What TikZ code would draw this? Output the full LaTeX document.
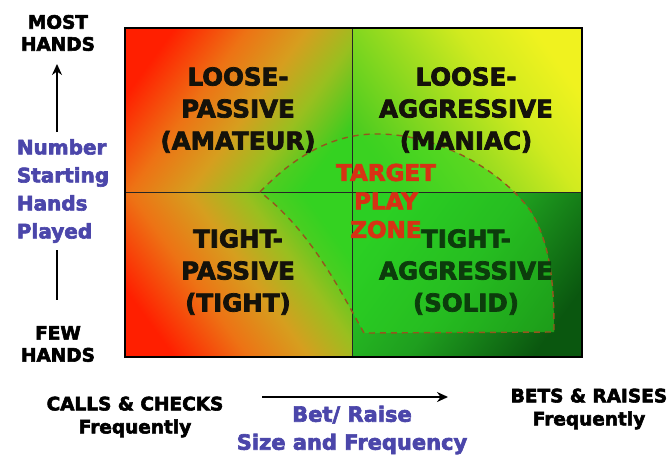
\documentclass[tikz,border=0pt]{standalone}
\usepackage{fontspec}
\setmainfont{DejaVu Sans}
\newfontfamily\heavy{DejaVu Sans Bold}[FakeBold=3]
\usetikzlibrary{arrows.meta}
\definecolor{zonefill}{RGB}{45,215,35}
\definecolor{zoneline}{RGB}{150,85,30}
\definecolor{zonetext}{RGB}{215,50,20}
\definecolor{axisblue}{RGB}{75,70,170}
\definecolor{txtdark}{RGB}{20,18,10}
\definecolor{txtgreen}{RGB}{12,60,12}
\pgfdeclarehorizontalshading{redgreen}{100bp}{%
  rgb(0bp)=(1,0.12,0); rgb(25bp)=(1,0.12,0); rgb(40bp)=(0.93,0.45,0.08);
  rgb(52bp)=(0.84,0.62,0.12); rgb(63bp)=(0.6,0.75,0.12); rgb(75bp)=(0.24,0.8,0.12); rgb(100bp)=(0.24,0.8,0.12)}
\pgfdeclarehorizontalshading{greenyellow}{100bp}{%
  rgb(0bp)=(0.3,0.8,0.12); rgb(25bp)=(0.3,0.8,0.12); rgb(45bp)=(0.6,0.86,0.12);
  rgb(60bp)=(0.82,0.92,0.12); rgb(75bp)=(0.94,0.95,0.12); rgb(100bp)=(0.94,0.95,0.12)}
\pgfdeclarehorizontalshading{greendark}{100bp}{%
  rgb(0bp)=(0.16,0.78,0.14); rgb(25bp)=(0.16,0.78,0.14); rgb(50bp)=(0.12,0.62,0.12);
  rgb(75bp)=(0.04,0.34,0.06); rgb(100bp)=(0.04,0.34,0.06)}
\tikzset{
  quad/.style={font=\heavy\fontsize{24.5}{32}\selectfont, align=center, text=txtdark},
  side/.style={font=\heavy\fontsize{18.5}{22}\selectfont, align=center, text=black},
  bluelab/.style={font=\heavy\fontsize{20}{28}\selectfont, align=left, text=axisblue},
  botlab/.style={font=\heavy\fontsize{18.5}{23}\selectfont, align=center, text=black},
  bluebot/.style={font=\heavy\fontsize{21}{28}\selectfont, align=center, text=axisblue},
  zonelab/.style={font=\heavy\fontsize{23}{28.5}\selectfont, align=center, text=zonetext},
  arr/.style={line width=2.8pt, -{Stealth[length=11pt,width=10pt]}},
}
\begin{document}
\begin{tikzpicture}[x=1pt,y=-1pt]
\useasboundingbox (0,0) rectangle (672,455);
\fill[white] (0,0) rectangle (672,455);
% quadrants
\shade[shading=redgreen, shading angle=-36] (125,28) rectangle (352,192);
\shade[shading=greenyellow, shading angle=36] (352,28) rectangle (582,192);
\shade[shading=redgreen, shading angle=36] (125,192) rectangle (352,357);
\shade[shading=greendark, shading angle=-36] (352,192) rectangle (582,357);
% target zone fill
\fill[zonefill, opacity=0.55] (260,192) .. controls (300,150) and (340,133) .. (380,134)
  .. controls (440,135) and (500,170) .. (530,210)
  .. controls (552,245) and (554,290) .. (554,332) -- (364,333)
  .. controls (340,290) and (310,230) .. (260,192) -- cycle;
% grid lines
\draw[line width=1pt, black!85] (352,28) -- (352,357);
\draw[line width=1pt, black!85] (125,192) -- (582,192);
\draw[line width=2.2pt, black] (125,28) rectangle (582,357);
% zone outline
\draw[zoneline, line width=1.4pt, dash pattern=on 6pt off 5pt] (260,192) .. controls (300,150) and (340,133) .. (380,134)
  .. controls (440,135) and (500,170) .. (530,210)
  .. controls (552,245) and (554,290) .. (554,332) -- (364,333)
  .. controls (340,290) and (310,230) .. (260,192) -- cycle;
% quadrant labels
\node[quad] (lp) at (238,110) {LOOSE-\\PASSIVE\\(AMATEUR)};
\node[quad] (la) at (466,110) {LOOSE-\\AGGRESSIVE\\(MANIAC)};
\node[quad] (tp) at (238,272) {TIGHT-\\PASSIVE\\(TIGHT)};
\node[quad, text=txtgreen] (ta) at (466,272) {TIGHT-\\AGGRESSIVE\\(SOLID)};
\node[zonelab] (zone) at (386,201) {TARGET\\PLAY\\ZONE};
% left axis
\node[side] (most) at (58,33) {MOST\\HANDS};
\node[bluelab] (num) at (63,191) {Number\\Starting\\Hands\\Played};
\node[side] (few) at (58,344) {FEW\\HANDS};
\coordinate (upstart) at (57,132);
\coordinate (upend) at (57,64);
\coordinate (lowstart) at (57,250);
\coordinate (lowend) at (57,300);
\draw[arr] (upstart) -- (upend);
\draw[line width=2.8pt] (lowstart) -- (lowend);
% bottom axis
\node[botlab] (calls) at (135,417) {CALLS \& CHECKS\\Frequently};
\node[bluebot] (bet) at (352,430) {Bet/ Raise\\Size and Frequency};
\node[botlab] (bets) at (589,409) {BETS \& RAISES\\Frequently};
\coordinate (rstart) at (262,397);
\coordinate (rend) at (448,397);
\draw[arr] (rstart) -- (rend);
\end{tikzpicture}
\end{document}
